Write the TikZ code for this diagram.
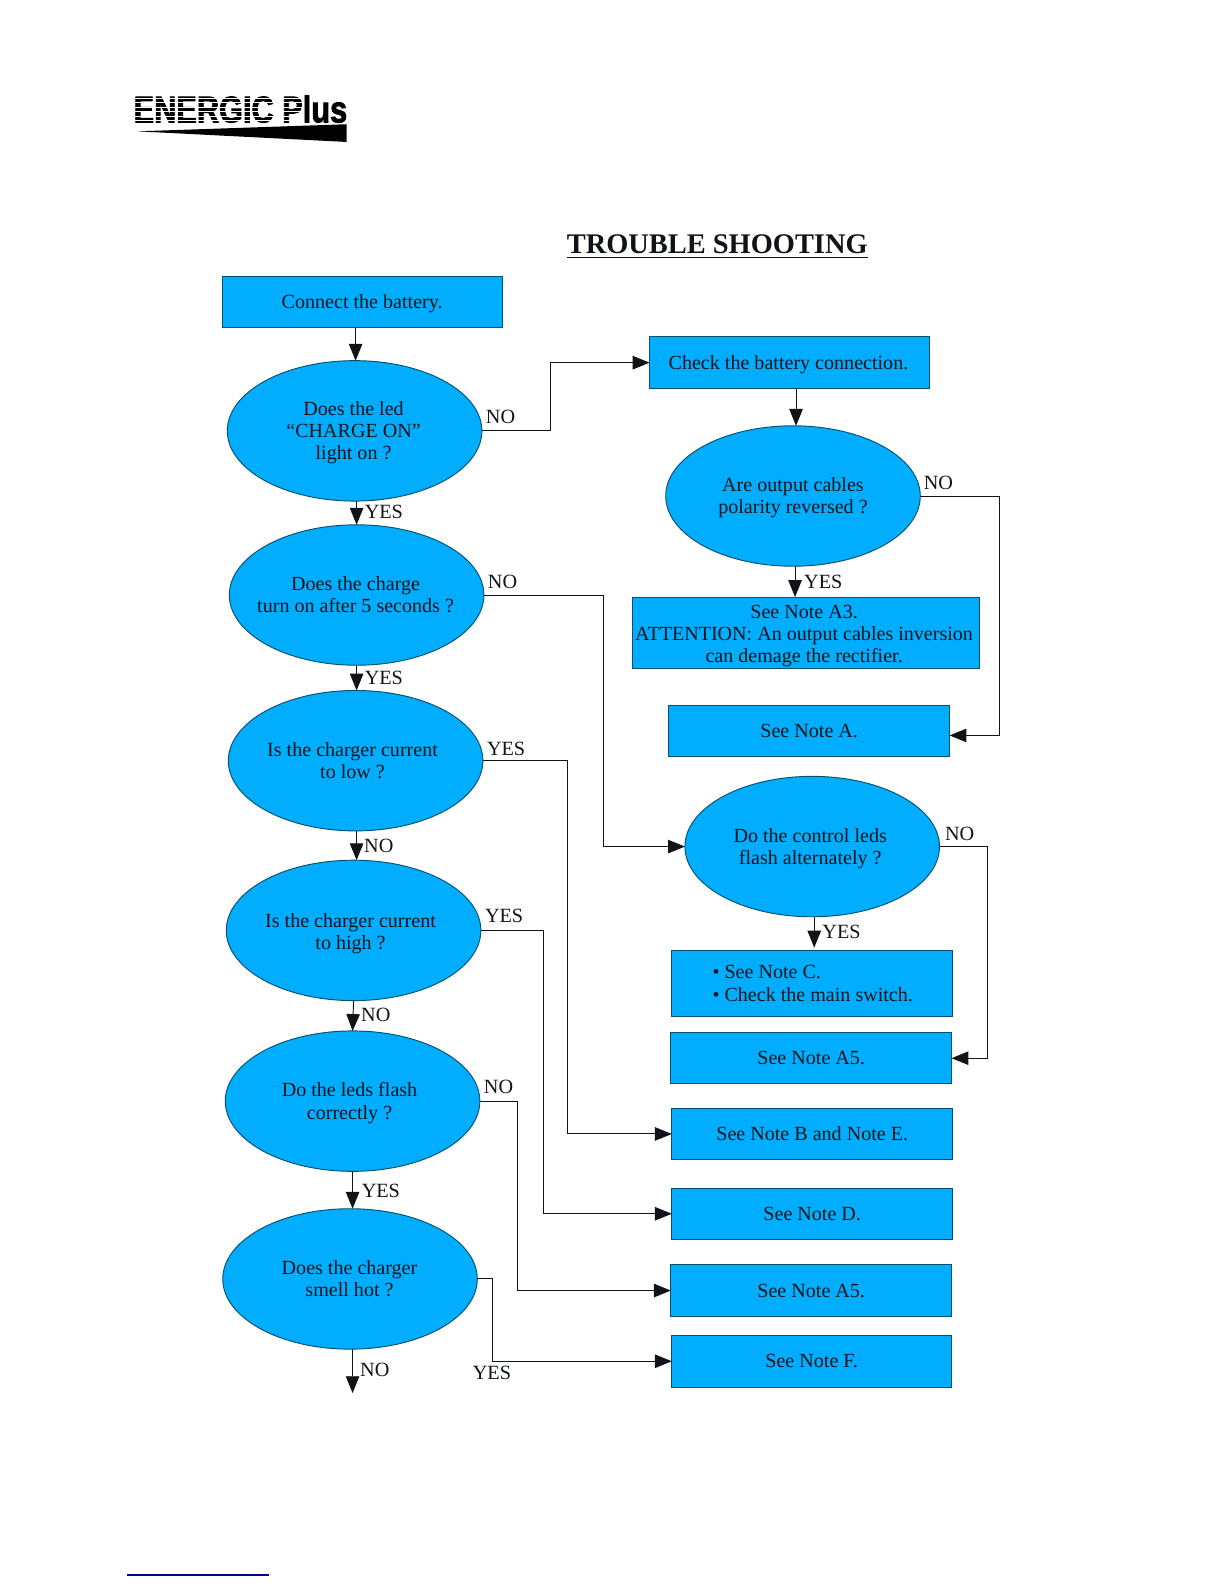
\documentclass[tikz,border=0pt]{standalone}
\usepackage{fontspec}
\setmainfont{Liberation Serif}
\newfontfamily\logofont[BoldFeatures={FakeBold=2.5}]{Liberation Sans}
\usetikzlibrary{shapes.geometric,arrows.meta,calc}
\definecolor{fillblue}{HTML}{00ADFF}
\definecolor{edgeblue}{HTML}{06506E}
\definecolor{inkc}{HTML}{101418}
\tikzset{
  bsize/.style 2 args={minimum width=#1*0.75pt,minimum height=#2*0.75pt},
  boxn/.style={draw=edgeblue,fill=fillblue,line width=0.7pt,inner sep=0pt,outer sep=0pt,rectangle},
  elln/.style={draw=edgeblue,fill=fillblue,line width=0.7pt,inner sep=0pt,outer sep=0pt,ellipse,minimum width=252*0.75pt,minimum height=139*0.75pt},
  txt/.style={font=\fontsize{14.9}{16.5}\selectfont,text=inkc,align=center,inner sep=0pt},
  lbl/.style={font=\fontsize{15}{16.5}\selectfont,text=inkc,inner sep=0pt},
  arr/.style={draw=inkc,line width=0.7pt,-{Triangle[length=12.5pt,width=10pt]}},
}
\begin{document}
\begin{tikzpicture}[x=0.75pt,y=-0.75pt]
\useasboundingbox (0,0) rectangle (1212,1568);
% logo
\node[inner sep=0pt,text=black,font=\logofont\bfseries\fontsize{27.5}{30}\selectfont,xscale=0.83] (logo) at (238,108) {ENERGIC Plus};
\foreach \yy in {97,101.5,106,110.5,115,119.5}{
  \draw[white,line width=0.7pt] (130,\yy) -- (300,\yy);
}
\fill[black] (136,130) -- (343,123) -- (343,140.5) -- cycle;
% title
\node[inner sep=0pt,font=\bfseries\fontsize{21.1}{24}\selectfont,text=inkc] (title) at (710,242) {TROUBLE SHOOTING};
\draw[inkc,line width=1.1pt] ($(title.west)+(0,13)$) -- ($(title.east)+(0,13)$);
% ellipses
\node[elln] (e1) at (351,426.5) {};
\node[elln] (e2) at (353,589) {};
\node[elln] (e3) at (352,753) {};
\node[elln] (e4) at (350,921) {};
\node[elln] (e5) at (349,1090) {};
\node[elln] (e6) at (346.5,1266) {};
\node[elln] (e7) at (785,491) {};
\node[elln] (e8) at (804,838) {};
\node[txt] (t1) at (350,428.5) {Does the led\\“CHARGE ON”\\light on ?};
\node[txt] (t2) at (352,589) {Does the charge\\turn on after 5 seconds ?};
\node[txt] (t3) at (349,753) {Is the charger current\\to low ?};
\node[txt] (t4) at (347,924) {Is the charger current\\to high ?};
\node[txt] (t5) at (346,1092) {Do the leds flash\\correctly ?};
\node[txt] (t6) at (346,1266) {Does the charger\\smell hot ?};
\node[txt] (t7) at (785,493) {Are output cables\\polarity reversed ?};
\node[txt] (t8) at (802,840) {Do the control leds\\flash alternately ?};
% boxes
\node[boxn,bsize={277}{51}] (b1) at (358.5,299) {};
\node[txt] (t10) at (358.5,301) {Connect the battery.};
\node[boxn,bsize={277}{52}] (b2) at (781.5,359) {};
\node[txt] (t11) at (780.5,361) {Check the battery connection.};
\node[boxn,bsize={344}{71}] (b3) at (798,626.5) {};
\node[txt] (t12) at (796,629.5) {See Note A3.\\ATTENTION: An output cables inversion\\can demage the rectifier.};
\node[boxn,bsize={278}{51},txt] (b4) at (801,723.5) {See Note A.};
\node[boxn,bsize={278}{65}] (b5) at (804,973.5) {};
\node[txt,align=left] (t9) at (804.5,973.5) {• See Note C.\\• Check the main switch.};
\node[boxn,bsize={278}{51},txt] (b6) at (803,1047.5) {See Note A5.};
\node[boxn,bsize={278}{51},txt] (b7) at (804,1122.5) {See Note B and Note E.};
\node[boxn,bsize={278}{51},txt] (b8) at (804,1201.5) {See Note D.};
\node[boxn,bsize={278}{51},txt] (b9) at (803,1277.5) {See Note A5.};
\node[boxn,bsize={277}{51},txt] (b10) at (803.5,1347.5) {See Note F.};
% vertical connectors
\draw[arr] ($(b1.south)+(-6.5,0)$) -- ($(e1.north)+(1,0)$);
\draw[arr] ($(e1.south)+(2,0)$) -- (e2.north);
\draw[arr] (e2.south) -- ($(e3.north)+(1,0)$);
\draw[arr] ($(e3.south)+(1,0)$) -- ($(e4.north)+(3,0)$);
\draw[arr] (e4.south) -- (e5.north);
\draw[arr] (e5.south) -- ($(e6.north)+(2.5,0)$);
\coordinate (endc) at (349,1379);
\draw[arr] ($(e6.south)+(2.5,0)$) -- (endc);
\draw[arr] ($(b2.south)+(6.5,0)$) -- ($(e7.north)+(3,0)$);
\draw[arr] ($(e7.south)+(2,0)$) -- ($(b3.north)+(-11,0)$);
\draw[arr] ($(e8.south)+(2,0)$) -- ($(b5.north)+(2,-3)$);
% elbow connectors
\coordinate (c1) at (545,0);
\draw[arr] (e1.east) -- (e1.east -| c1) -- (b2.west -| c1) -- (b2.west);
\coordinate (c7) at (989,0);
\coordinate (a4) at ($(b4.east)+(0,4.5)$);
\draw[arr] (e7.east) -- (e7.east -| c7) -- (a4 -| c7) -- (a4);
\coordinate (c2) at (597,0);
\draw[arr] (e2.east) -- (e2.east -| c2) -- (e8.west -| c2) -- (e8.west);
\coordinate (c3) at (562,0);
\draw[arr] (e3.east) -- (e3.east -| c3) -- (b7.west -| c3) -- (b7.west);
\coordinate (c4) at (538,0);
\draw[arr] (e4.east) -- (e4.east -| c4) -- (b8.west -| c4) -- (b8.west);
\coordinate (c5) at (512,0);
\draw[arr] (e5.east) -- (e5.east -| c5) -- (b9.west -| c5) -- (b9.west);
\coordinate (c6) at (487,0);
\draw[arr] (e6.east) -- (e6.east -| c6) -- (b10.west -| c6) -- (b10.west);
\coordinate (c8) at (977,0);
\draw[arr] (e8.east) -- (e8.east -| c8) -- (b6.east -| c8) -- (b6.east);
% labels
\node[lbl] (l1) at (495.5,413) {NO};
\node[lbl] (l2) at (380,507) {YES};
\node[lbl] (l3) at (497.5,576) {NO};
\node[lbl] (l4) at (380,671) {YES};
\node[lbl] (l5) at (501,741) {YES};
\node[lbl] (l6) at (375,837) {NO};
\node[lbl] (l7) at (499,907) {YES};
\node[lbl] (l8) at (372,1005) {NO};
\node[lbl] (l9) at (493.5,1076) {NO};
\node[lbl] (l10) at (377,1179) {YES};
\node[lbl] (l11) at (371,1356) {NO};
\node[lbl] (l12) at (487,1359) {YES};
\node[lbl] (l13) at (929,478) {NO};
\node[lbl] (l14) at (815,576) {YES};
\node[lbl] (l15) at (950,825) {NO};
\node[lbl] (l16) at (833,922) {YES};
% footer rule
\coordinate (fa) at (126,1559);
\coordinate (fb) at (266,1559);
\draw[color=blue!60!black,line width=0.9pt] (fa) -- (fb);
\end{tikzpicture}
\end{document}
